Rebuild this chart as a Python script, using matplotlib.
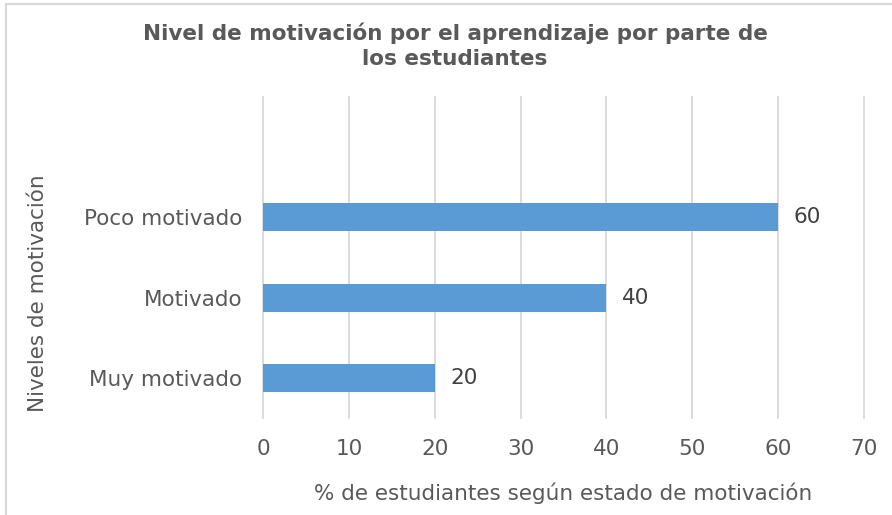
import matplotlib

matplotlib.use("Agg")
import matplotlib.pyplot as plt
from matplotlib.patches import Rectangle

plt.rcParams["font.family"] = ["DejaVu Sans"]

CATEGORIES = ["Muy motivado", "Motivado", "Poco motivado"]
VALUES = [20, 40, 60]
X_TICKS = [0, 10, 20, 30, 40, 50, 60, 70]

TITLE = "Nivel de motivación por el aprendizaje por parte de\nlos estudiantes"
X_LABEL = "% de estudiantes según estado de motivación"
Y_LABEL = "Niveles de motivación"

BAR_COLOR = "#5B9BD5"
TEXT_COLOR = "#595959"
GRID_COLOR = "#D9D9D9"
FS = 15.5

fig = plt.figure(figsize=(8.92, 5.15), dpi=100)
ax = fig.add_axes([263 / 892, 1 - 418 / 515, (864 - 263) / 892, (418 - 97) / 515])

ys = range(len(CATEGORIES))
ax.barh(ys, VALUES, height=0.35, color=BAR_COLOR, zorder=3)
for y, v in zip(ys, VALUES):
    ax.text(v + 1.8, y, f"{v}", va="center", ha="left", fontsize=FS, color="#404040")

ax.set_xlim(0, 70)
ax.set_ylim(-0.5, 3.5)
ax.set_xticks(X_TICKS)
ax.set_yticks(list(ys))
ax.set_yticklabels(CATEGORIES)
ax.tick_params(axis="both", length=0, labelsize=FS, labelcolor=TEXT_COLOR)
ax.tick_params(axis="y", pad=15)
ax.tick_params(axis="x", pad=15)
ax.xaxis.grid(True, color=GRID_COLOR, linewidth=1.3, zorder=0)
for gl in ax.get_xgridlines():
    gl.set_clip_on(False)   # que la línea del 0 y del 70 no salga cortada
for s in ax.spines.values():
    s.set_visible(False)

ax.set_xlabel(X_LABEL, fontsize=FS, color=TEXT_COLOR, labelpad=17)
fig.text(38 / 892, 1 - 293 / 515, Y_LABEL, rotation=90, ha="center", va="center",
         fontsize=FS, color=TEXT_COLOR)
fig.text(455 / 892, 1 - 46 / 515, TITLE, ha="center", va="center", fontsize=15.5,
         fontweight="bold", color=TEXT_COLOR, linespacing=1.3)

# marco gris claro del gráfico
fig.patches.append(Rectangle((6 / 892, -0.01), 1.0, 1 - 4 / 515 + 0.01,
                             transform=fig.transFigure, fill=False,
                             edgecolor="#D9D9D9", linewidth=1.5))

fig.savefig("out.png", dpi=100)
